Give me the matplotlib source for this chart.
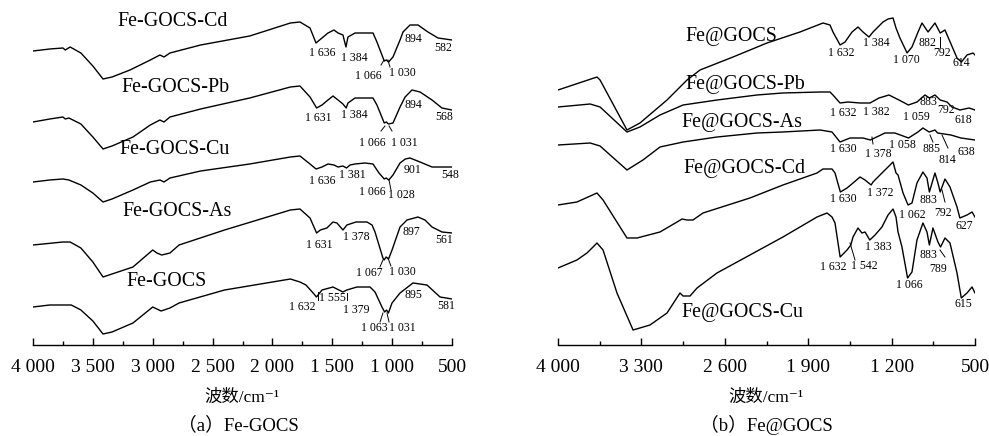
"""
FTIR spectra of Fe-GOCS and Fe@GOCS before/after heavy metal adsorption.
Curves stacked with offsets, transmittance in arbitrary units.
"""
import matplotlib
matplotlib.use('Agg')
import matplotlib.pyplot as plt
from matplotlib.ticker import FixedLocator, FuncFormatter

# ── (a) Fe-GOCS series: wavenumber (cm-1) / transmittance (a.u., stacked) ─────
wn_a_cd = [4000, 3860, 3750, 3730, 3690, 3600, 3500, 3415, 3340, 3190,
           3020, 2940, 2906, 2856, 2600, 2190, 1850, 1770, 1686, 1636,
           1586, 1536, 1486, 1452, 1411, 1386, 1369, 1310, 1227, 1160,
           1127, 1066, 1048, 1030, 993, 934, 909, 851, 784, 701,
           617, 500]
t_a_cd = [294, 296, 297, 295, 298, 292, 279, 266, 268, 275,
          285, 290, 288, 292, 300, 309, 322, 323, 317, 302,
          307, 312, 315, 312, 310, 298, 308, 312, 312, 312,
          303, 284, 285, 283, 288, 305, 313, 320, 320, 313,
          307, 305]

wn_a_pb = [4000, 3860, 3750, 3730, 3700, 3600, 3500, 3415, 3340, 3165,
           3020, 2940, 2906, 2856, 2600, 2190, 1850, 1770, 1686, 1631,
           1586, 1536, 1494, 1452, 1411, 1384, 1369, 1310, 1227, 1160,
           1127, 1066, 1048, 1031, 993, 934, 892, 834, 767, 667,
           584, 500]
t_a_pb = [223, 226, 228, 226, 227, 221, 208, 196, 199, 208,
          220, 225, 223, 228, 236, 247, 258, 259, 248, 237,
          240, 245, 249, 245, 241, 237, 242, 247, 247, 247,
          240, 222, 223, 221, 222, 238, 248, 255, 253, 245,
          237, 235]

wn_a_cu = [4000, 3860, 3750, 3700, 3600, 3500, 3415, 3340, 3165, 3020,
           2939, 2906, 2856, 2600, 2190, 1850, 1770, 1686, 1636, 1586,
           1536, 1486, 1452, 1411, 1381, 1352, 1310, 1227, 1160, 1110,
           1066, 1050, 1028, 993, 934, 890, 851, 767, 667, 578,
           500]
t_a_cu = [163, 165, 166, 165, 160, 152, 143, 146, 155, 163,
          165, 163, 167, 174, 181, 188, 189, 181, 176, 178,
          181, 180, 178, 179, 177, 180, 181, 182, 181, 172,
          166, 167, 165, 170, 182, 186, 187, 183, 178, 178,
          178]

wn_a_as = [4000, 3750, 3690, 3600, 3500, 3415, 3340, 3165, 3000, 2965,
           2925, 2856, 2780, 2400, 1850, 1770, 1686, 1631, 1600, 1545,
           1494, 1461, 1411, 1378, 1302, 1210, 1168, 1143, 1077, 1067,
           1050, 1030, 1001, 934, 876, 784, 726, 667, 584, 500]
t_a_as = [100, 103, 103, 97, 83, 68, 71, 78, 95, 92,
          90, 92, 100, 115, 135, 136, 127, 112, 115, 117,
          123, 122, 115, 120, 123, 123, 120, 113, 87, 85,
          88, 86, 95, 118, 125, 128, 125, 118, 113, 112]

wn_a_base = [4000, 3860, 3750, 3680, 3600, 3500, 3415, 3340, 3165, 3000,
             2930, 2856, 2780, 2400, 1850, 1770, 1720, 1660, 1632, 1586,
             1494, 1478, 1411, 1379, 1294, 1185, 1143, 1085, 1063, 1047,
             1031, 1001, 934, 826, 709, 600, 500]
t_a_base = [38, 40, 40, 40, 35, 24, 11, 13, 22, 38,
            34, 37, 42, 55, 66, 63, 60, 52, 48, 55,
            58, 57, 53, 55, 58, 58, 53, 38, 33, 35,
            32, 42, 52, 62, 60, 48, 46]

# ── (b) Fe@GOCS series ────────────────────────────────────────────────────────
wn_b_base = [4000, 3673, 3647, 3421, 3312, 3085, 2917, 2808, 2531, 2246,
             1969, 1776, 1717, 1692, 1632, 1591, 1532, 1482, 1440, 1390,
             1356, 1272, 1230, 1188, 1163, 1130, 1070, 1029, 978, 945,
             894, 836, 792, 752, 651, 614, 567, 517, 500]
t_b_base = [255, 268, 265, 215, 222, 245, 265, 275, 288, 302,
            313, 322, 320, 313, 300, 303, 313, 318, 313, 308,
            313, 323, 326, 327, 317, 307, 292, 298, 313, 322,
            313, 322, 312, 315, 287, 283, 290, 292, 290]

wn_b_pb = [4000, 3730, 3647, 3421, 3312, 3144, 2950, 2665, 2330, 2115,
           1800, 1717, 1692, 1633, 1566, 1465, 1381, 1306, 1222, 1138,
           1059, 987, 920, 883, 836, 792, 735, 693, 626, 550,
           500]
t_b_pb = [238, 241, 238, 213, 218, 230, 240, 245, 250, 252,
          253, 253, 250, 242, 243, 242, 242, 247, 250, 245,
          240, 243, 250, 247, 250, 245, 243, 238, 235, 237,
          235]

wn_b_as = [4000, 3730, 3647, 3421, 3287, 3144, 2950, 2665, 2330, 2115,
           1800, 1700, 1633, 1549, 1440, 1378, 1256, 1172, 1058, 979,
           937, 885, 836, 814, 702, 618, 500]
t_b_as = [200, 202, 199, 175, 185, 198, 203, 208, 212, 213,
          215, 213, 203, 207, 207, 205, 212, 212, 207, 213,
          217, 213, 215, 212, 210, 207, 205]

wn_b_cd = [4000, 3841, 3673, 3622, 3421, 3337, 3144, 3001, 2959, 2917,
           2867, 2783, 2389, 2112, 1826, 1776, 1700, 1675, 1630, 1574,
           1524, 1465, 1423, 1372, 1356, 1281, 1230, 1188, 1163, 1146,
           1104, 1062, 1029, 987, 937, 903, 883, 836, 811, 792,
           752, 710, 651, 627, 567, 525, 500]
t_b_cd = [140, 143, 152, 145, 107, 107, 113, 123, 126, 125,
          125, 132, 147, 160, 172, 176, 176, 172, 153, 157,
          162, 168, 165, 160, 163, 172, 178, 183, 172, 170,
          152, 140, 142, 162, 173, 167, 153, 172, 162, 153,
          166, 158, 138, 127, 130, 133, 128]

wn_b_cu = [4000, 3841, 3757, 3731, 3673, 3622, 3505, 3370, 3228, 3085,
           2976, 2951, 2892, 2833, 2666, 2389, 2112, 1826, 1742, 1700,
           1675, 1632, 1574, 1542, 1524, 1482, 1449, 1423, 1383, 1339,
           1281, 1230, 1188, 1163, 1146, 1113, 1066, 1029, 987, 937,
           903, 883, 853, 811, 789, 752, 710, 651, 615, 567,
           525, 500]
t_b_cu = [77, 85, 92, 95, 102, 95, 52, 15, 20, 32,
          52, 49, 49, 57, 72, 90, 108, 128, 132, 128,
          122, 88, 95, 100, 108, 117, 112, 113, 105, 110,
          118, 130, 136, 128, 113, 98, 67, 73, 105, 122,
          113, 100, 117, 103, 98, 107, 102, 72, 47, 52,
          58, 52]

# ── Axis ticks ────────────────────────────────────────────────────────────────
ticks_a = [4000, 3500, 3000, 2500, 2000, 1500, 1000, 500]
minor_a = [3750, 3250, 2750, 2250, 1750, 1250, 750]
ticks_b = [4000, 3300, 2600, 1900, 1200, 500]
minor_b = [3650, 2950, 2250, 1550, 850]

# ── Text annotations ──────────────────────────────────────────────────────────
names_a = [('Fe-GOCS-Cd', 2831, 323), ('Fe-GOCS-Pb', 2806, 258),
           ('Fe-GOCS-Cu', 2814, 195), ('Fe-GOCS-As', 2797, 134),
           ('Fe-GOCS', 2881, 63)]
names_b = [('Fe@GOCS', 2548, 308), ('Fe@GOCS-Pb', 2431, 260),
           ('Fe@GOCS-As', 2456, 222), ('Fe@GOCS-Cd', 2439, 177),
           ('Fe@GOCS-Cu', 2456, 33)]

peaks_a = [('1 636', 1586, 292), ('1 384', 1319, 287), ('894', 826, 306),
           ('582', 575, 297), ('1 066', 1202, 269), ('1 030', 918, 272),
           ('1 631', 1619, 227), ('1 384', 1319, 230), ('894', 826, 240),
           ('568', 567, 228), ('1 066', 1168, 202), ('1 031', 901, 202),
           ('1 636', 1586, 164), ('1 381', 1335, 170), ('901', 826, 175),
           ('548', 517, 170), ('1 066', 1168, 153), ('1 028', 926, 150),
           ('1 631', 1611, 100), ('1 378', 1302, 108), ('897', 843, 113),
           ('561', 567, 105), ('1 067', 1193, 72), ('1 030', 918, 73),
           ('1 632', 1753, 38), ('1 555', 1502, 47), ('1 379', 1302, 35),
           ('895', 826, 50), ('581', 550, 39), ('1 063', 1152, 17),
           ('1 031', 918, 17)]
peaks_b = [('1 632', 1625, 292), ('1 384', 1331, 302), ('1 070', 1079, 285),
           ('882', 903, 302), ('792', 777, 292), ('614', 618, 282),
           ('1 632', 1608, 232), ('1 382', 1331, 233), ('1 059', 995, 228),
           ('883', 895, 243), ('792', 744, 235), ('618', 601, 225),
           ('1 630', 1608, 196), ('1 378', 1314, 191), ('1 058', 1113, 200),
           ('885', 861, 196), ('814', 735, 185), ('638', 576, 193),
           ('1 630', 1608, 146), ('1 372', 1297, 152), ('883', 895, 145),
           ('1 062', 1029, 130), ('792', 769, 132), ('627', 593, 119),
           ('1 632', 1692, 78), ('1 542', 1432, 79), ('1 383', 1314, 98),
           ('1 066', 1054, 60), ('883', 895, 90), ('789', 811, 76),
           ('615', 601, 41)]

leaders_a = [(1093, 280, 1068, 285), (1035, 285, 1018, 278),
             (1060, 219, 1093, 214), (1026, 219, 1001, 214),
             (1026, 165, 1010, 155),
             (1077, 85, 1102, 78), (1035, 87, 1010, 79),
             (1619, 53, 1619, 45), (1377, 52, 1377, 45),
             (1101, 23, 1077, 32), (1043, 32, 1026, 23)]
leaders_b = [(794, 308, 794, 298),
             (1365, 208, 1356, 201), (878, 210, 853, 203), (777, 210, 727, 197),
             (777, 155, 752, 143),
             (1549, 102, 1507, 85), (794, 95, 752, 88)]

curves_a = [(wn_a_cd, t_a_cd), (wn_a_pb, t_a_pb), (wn_a_cu, t_a_cu),
            (wn_a_as, t_a_as), (wn_a_base, t_a_base)]
curves_b = [(wn_b_base, t_b_base), (wn_b_pb, t_b_pb), (wn_b_as, t_b_as),
            (wn_b_cd, t_b_cd), (wn_b_cu, t_b_cu)]

# ── Plot settings ─────────────────────────────────────────────────────────────
plt.rcParams['font.family'] = ['Liberation Serif', 'Noto Sans CJK SC', 'DejaVu Serif']


def wn_fmt(v, pos):
    return f'{int(round(v)):,}'.replace(',', ' ')


def draw_panel(ax, curves, names, peaks, leaders, major, minor):
    for wn, t in curves:
        ax.plot(wn, t, color='black', linewidth=1.0)
    for s, x, y in names:
        ax.text(x, y, s, ha='center', va='center', fontsize=14.4)
    for s, x, y in peaks:
        ax.text(x, y, s, ha='center', va='center', fontsize=8.5)
    for x1, y1, x2, y2 in leaders:
        ax.plot([x1, x2], [y1, y2], color='black', linewidth=0.7)
    ax.set_xlim(4000, 500)
    ax.set_ylim(0, 345)
    ax.xaxis.set_major_locator(FixedLocator(major))
    ax.xaxis.set_minor_locator(FixedLocator(minor))
    ax.xaxis.set_major_formatter(FuncFormatter(wn_fmt))
    ax.tick_params(axis='x', which='major', direction='in', length=5, width=1,
                   pad=10, labelsize=14)
    ax.tick_params(axis='x', which='minor', direction='in', length=3, width=1)
    ax.set_yticks([])
    for side in ('top', 'left', 'right'):
        ax.spines[side].set_visible(False)
    ax.spines['bottom'].set_linewidth(1.0)
    ax.patch.set_visible(False)


fig = plt.figure(figsize=(9.89, 4.36), dpi=100)
ax_a = fig.add_axes([33 / 989, 91 / 436, 419 / 989, 345 / 436])
ax_b = fig.add_axes([558 / 989, 91 / 436, 417 / 989, 345 / 436])

draw_panel(ax_a, curves_a, names_a, peaks_a, leaders_a, ticks_a, minor_a)
draw_panel(ax_b, curves_b, names_b, peaks_b, leaders_b, ticks_b, minor_b)

fig.text(242 / 989, 1 - 398 / 436, '波数/cm⁻¹', ha='center', va='center', fontsize=12.5)
fig.text(766 / 989, 1 - 398 / 436, '波数/cm⁻¹', ha='center', va='center', fontsize=12.5)
fig.text(238 / 989, 1 - 425 / 436, '（a）Fe-GOCS', ha='center', va='center', fontsize=13.5)
fig.text(766 / 989, 1 - 425 / 436, '（b）Fe@GOCS', ha='center', va='center', fontsize=13.5)

fig.savefig('out.png', dpi=100)
print('Saved: out.png')
